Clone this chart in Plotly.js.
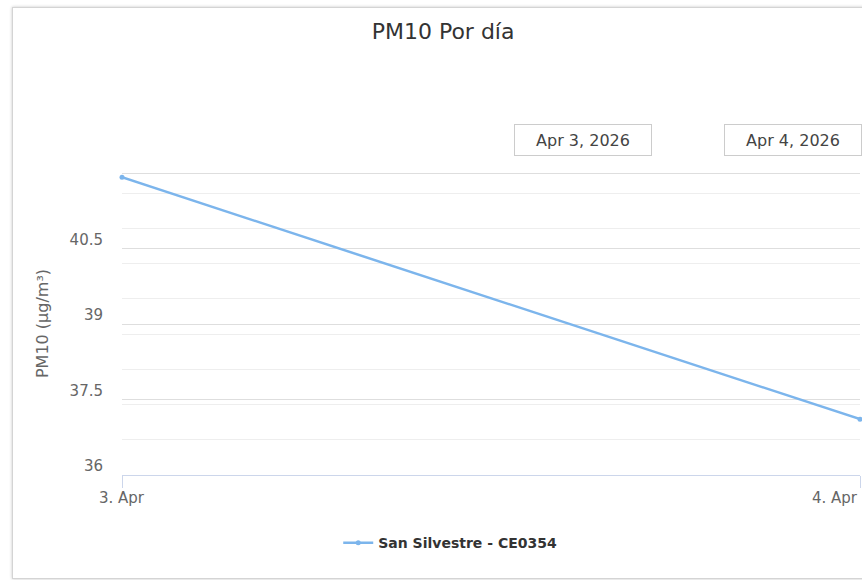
<!DOCTYPE html>
<html>
<head>
<meta charset="utf-8">
<script src="https://cdn.plot.ly/plotly-3.0.1.min.js"></script>
<style>
  html, body { margin: 0; padding: 0; background: #ffffff; overflow: hidden; }
  #frame { position: absolute; left: 12px; top: 7px; width: 900px; height: 570px;
           border: 1px solid #d4d4d4; box-shadow: 0 0 3px rgba(0,0,0,0.22); background: #fff; }
  #chart { position: absolute; left: 0; top: 0; width: 862px; height: 580px; }
</style>
</head>
<body>
<div id="frame"></div>
<div id="chart"></div>
<script>
// ---- data ----
const dates = ["2026-04-03", "2026-04-04"];
const pm10 = [41.92, 37.11];
const seriesName = "San Silvestre - CE0354";
const chartTitle = "PM10 Por día";
const yTitle = "PM10 (µg/m³)";
const yTicks = [36, 37.5, 39, 40.5, 42];
const yTickLabels = ["36", "37.5", "39", "40.5", ""];

const MONTHS = ["Jan","Feb","Mar","Apr","May","Jun","Jul","Aug","Sep","Oct","Nov","Dec"];
function parts(d) { const p = d.split("-").map(Number); return {y: p[0], m: p[1], d: p[2]}; }
function shortLabel(d) { const p = parts(d); return p.d + ". " + MONTHS[p.m - 1]; }
function longLabel(d) { const p = parts(d); return MONTHS[p.m - 1] + " " + p.d + ", " + p.y; }

const FONT = "DejaVu Sans, Verdana, sans-serif";

const trace = {
  x: dates, y: pm10, name: seriesName, type: "scatter", mode: "lines+markers",
  line: {color: "#7cb5ec", width: 2.5},
  marker: {color: "#7cb5ec", size: 5},
  cliponaxis: false
};

const annotations = [];
// x tick labels
dates.forEach((d, i) => {
  annotations.push({
    x: d, xref: "x", y: -0.075, yref: "paper",
    xanchor: i === dates.length - 1 ? "right" : "center", yanchor: "middle",
    text: shortLabel(d), showarrow: false,
    font: {family: FONT, size: 15, color: "#666666"}
  });
});
// range selector date boxes
const boxX = [0.6247, 0.909];
dates.forEach((d, i) => {
  annotations.push({
    x: boxX[i], xref: "paper", y: 1.105, yref: "paper",
    xanchor: "center", yanchor: "middle",
    text: longLabel(d), showarrow: false,
    width: 134, height: 28, align: "center", valign: "middle",
    bordercolor: "#cccccc", borderwidth: 1, bgcolor: "#ffffff",
    font: {family: FONT, size: 16, color: "#444444"}
  });
});

const layout = {
  width: 862, height: 580,
  margin: {l: 122, r: 2, t: 172, b: 105},
  paper_bgcolor: "rgba(0,0,0,0)", plot_bgcolor: "rgba(0,0,0,0)",
  font: {family: FONT, color: "#666666"},
  title: {text: chartTitle, x: 0.514, xanchor: "center", y: 1 - 31/580, yanchor: "middle",
          font: {family: FONT, size: 22, color: "#333333"}},
  showlegend: true,
  legend: {orientation: "h", x: 0.293, xanchor: "left", y: -0.225, yanchor: "middle",
           font: {family: FONT, size: 14, color: "#333333", weight: "bold"},
           bgcolor: "rgba(0,0,0,0)"},
  xaxis: {
    type: "date", range: [dates[0], dates[dates.length - 1]],
    tickvals: dates, showticklabels: false,
    ticks: "outside", ticklen: 12, tickcolor: "#ccd6eb", tickwidth: 1,
    showline: true, linecolor: "#ccd6eb", linewidth: 1,
    showgrid: false, zeroline: false, fixedrange: true
  },
  yaxis: {
    range: [36, 42.025], tickvals: yTicks, ticktext: yTickLabels,
    ticks: "", showline: false, zeroline: false,
    showgrid: true, gridcolor: "#dedede", gridwidth: 1,
    minor: {tick0: 36, dtick: 0.7, showgrid: true, gridcolor: "#eeeeee", gridwidth: 1, ticks: ""},
    tickfont: {family: FONT, size: 15, color: "#666666"},
    ticklabelstandoff: 18, ticklabelshift: -9,
    title: {text: yTitle, standoff: 16, font: {family: FONT, size: 16, color: "#666666"}},
    automargin: false, fixedrange: true
  },
  annotations: annotations
};

Plotly.newPlot("chart", [trace], layout, {displayModeBar: false, staticPlot: true});
</script>
</body>
</html>
